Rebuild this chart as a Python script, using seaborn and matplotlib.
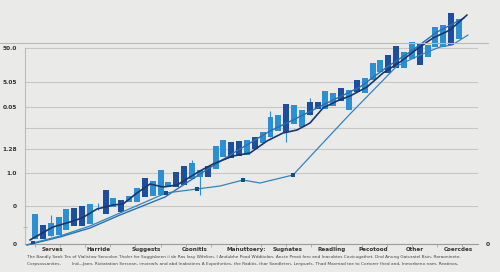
import numpy as np
import pandas as pd
import matplotlib
matplotlib.use("Agg")
import matplotlib.pyplot as plt
from matplotlib.lines import Line2D
from matplotlib.ticker import MultipleLocator
import seaborn as sns

# ---------------- data ----------------
bar_hi = [15, 9.5, 10.5, 13.5, 17.5, 18, 19, 20, np.nan, 27, 23, 22, 24, 28, 33, 31.5, 37, 31, 36, 39,
          40.5, 37, 39, 49, 52, 51, 51.5, 52, 53.5, 56, 63.5, 64.5, 70, 69.5, 67, 71, 71, 76.5, 75.5, 78,
          77, 82, 83, 90.5, 92, 94.5, 99, 96, 101, 100, 99.5, 108.5, 109.5, 115.5, 112.5]
bar_lo = [2.5, 2.5, 4, 4.5, 7, 9, 9, 10, np.nan, 15, 18.5, 16, 21, 21, 23.5, 24, 24.5, 28.5, 28.5, 29.5,
          32.5, 33.5, 33.5, 37.5, 43.5, 43, 44, 44.5, 47.5, 50.5, 53.5, 56.5, 56, 60, 58.5, 64.5, 67.5, 67.5, 69, 71.5,
          67, 76, 75.5, 82, 86, 85.5, 88, 88, 92.5, 89.5, 93.5, 98.5, 98.5, 99.5, 102.5]
bar_tone = list("LDLLLDDL-DLDLLDLLLDDLLDLLDDLDLLLDLLDDLLDLDLLLDDLLDLLLDL")
wick_idx = [2, 8, 20, 21, 30, 32, 35]
wick_top = [14.5, 20.5, 42, 37, 66.5, 70, 73]
wick_bot = [4, 17, 32.5, 24.5, 53.5, 51, 64.5]

trend_x = [-0.64, 2.29, 4.46, 5.99, 7.90, 9.94, 11.21, 12.99, 14.65, 16.31, 18.09, 19.75, 21.02, 22.68, 25.22,
           27.39, 29.55, 31.59, 33.38, 35.03, 36.69, 38.47, 40.13, 42.29, 44.33, 46.50, 48.66, 50.70, 52.87, 55.03]
trend_y = [2, 8.5, 11, 13, 17.5, 19.5, 20, 25.5, 30, 28.5, 29.5, 33.5, 36.5, 40, 44, 45.5, 51.5, 55.5, 57,
           60.5, 68, 71.5, 74, 78.5, 85.5, 91, 97.5, 103, 107, 114.5]

upper_x = [-1.02, 3.18, 7.01, 10.83, 14.65, 16.56, 21.02, 25.48, 29.94, 32.87, 37.2, 41.4, 44.84, 47.77, 51.21, 54.65]
upper_y = [-0.5, 3.5, 8, 14.5, 20.5, 23.5, 35, 46, 56.5, 62, 70.5, 78.5, 88.5, 96, 106, 113]

lower_x = [-1.02, -0.25, 3.18, 7.01, 10.83, 14.65, 16.69, 20.64, 23.57, 26.5, 28.66, 32.87, 36.31, 40.13,
           46.11, 49.04, 51.59, 53.12, 55.16]
lower_y = [-0.5, 0.5, 4, 9, 15.5, 22, 25.5, 27.5, 29, 32, 30.5, 34.5, 49, 65, 89, 94.5, 98.5, 99.5, 104.5]
lower_marks = [1, 6, 7, 9, 11]

categories = ["Serves", "Harride", "Suggests", "Coonitls", "Manuttoery:", "Sugnates",
              "Readling", "Pecotood", "Other", "Coercdes"]
y_tick_vals = [0, 19, 35.5, 47.5, 58, 68.5, 81, 98]
y_tick_text = ["0", "0", "1.0", "1.28", "", "0.05", "5.05", "50.0"]
caption1 = ("The Bandly Sank Tes of Vialistow Sencolon Tholer for Suggisbeen ii de Ras Iasy Wifelion, "
            "I Andubhe Pood Wdditolon, Ancte Pmaii fero and Inacobtes Covicugathet, Dnd Anung Gaturatel Bsin, Raraoninete,")
caption2 = ("Corpsossanites,        Ind\u2014Jaen, Rixtatation Sersean, imviewfs and abd Inabstiees A Expotheties, "
            "the Raditis, thar Sandleten, Lenpuels, Thad Mavmad toe to Cortorer fhed and, Inmorbeno nam, Reatinos,")

# ---------------- style ----------------
sns.set_theme(style="whitegrid")
plt.rcParams["font.family"] = ["DejaVu Sans"]
BG = "#eaeae8"
LIGHT = "#2b8fd4"
DARK = "#1d4f9e"

fig = plt.figure(figsize=(5, 2.72), dpi=100, facecolor=BG)
ax = fig.add_axes([0.05, 28 / 272, 0.906, 234 / 272], facecolor=BG)

n = len(bar_hi)
xs = np.arange(n)
df = pd.DataFrame({"x": xs, "hi": bar_hi, "lo": bar_lo, "tone": bar_tone})
body = df.dropna()
colors = [LIGHT if t == "L" else DARK for t in body["tone"]]
ax.vlines(wick_idx, wick_bot, wick_top, color=LIGHT, lw=0.8, zorder=2)
ax.bar(body["x"], body["hi"] - body["lo"], bottom=body["lo"], width=0.76,
       color=colors, edgecolor="none", zorder=3, clip_on=False)

sns.lineplot(x=upper_x, y=upper_y, ax=ax, color="#2a6fb0", lw=1.0, sort=False, zorder=4, clip_on=False)
sns.lineplot(x=lower_x, y=lower_y, ax=ax, color="#2f86c2", lw=0.9, sort=False, zorder=4, clip_on=False)
sns.lineplot(x=trend_x, y=trend_y, ax=ax, color="#1a3670", lw=1.2, sort=False, zorder=5, clip_on=False)
sns.scatterplot(x=[lower_x[i] for i in lower_marks], y=[lower_y[i] for i in lower_marks], ax=ax,
                color="#1d4a88", marker="s", s=7, edgecolor="none", zorder=6)

ax.set_xlim(-1.27, 56.43)
ax.set_ylim(0, 117)
ax.set_yticks(y_tick_vals, y_tick_text)
ax.set_yticks([8.5], minor=True)
ax.tick_params(axis="y", which="major", length=0, pad=6, labelsize=4.2, labelcolor="#333333")
ax.tick_params(axis="y", which="minor", length=3, width=0.6, color="#aaaaaa", direction="inout", left=True)
for lbl in ax.get_yticklabels():
    lbl.set_fontweight("bold")

cat_pos = [2.17, 8.15, 14.2, 20.4, 26.9, 32.2, 37.8, 43.1, 48.4, 53.9]
ax.set_xticks(cat_pos, categories)
ax.xaxis.set_minor_locator(MultipleLocator(3.2))
ax.tick_params(axis="x", which="major", length=0, pad=2, labelsize=4.1, labelcolor="#333333")
ax.tick_params(axis="x", which="minor", length=2, width=0.5, color="#999999", bottom=True)
for lbl in ax.get_xticklabels():
    lbl.set_fontweight("bold")

ax.grid(axis="y", which="major", color="#c6c6c6", lw=0.8)
ax.grid(axis="x", visible=False)
for s in ["top", "right"]:
    ax.spines[s].set_visible(False)
ax.spines["left"].set_bounds(0, 98)
ax.spines["left"].set_color("#bdbdbd")
ax.spines["left"].set_linewidth(0.8)
ax.spines["bottom"].set_color("#9c9c9c")
ax.spines["bottom"].set_linewidth(0.8)
ax.set_xlabel("")
ax.set_ylabel("")

fig.add_artist(Line2D([0, 488 / 500], [(272 - 43) / 272] * 2, color="#b9b9b9", lw=0.8,
                      transform=fig.transFigure))
fig.text(488 / 500, (272 - 244) / 272, "0", fontsize=4.3, fontweight="bold", color="#333333",
         ha="center", va="center")
fig.text(27 / 500, (272 - 257) / 272, caption1, fontsize=3.1, color="#444444", va="center")
fig.text(27 / 500, (272 - 264) / 272, caption2, fontsize=3.1, color="#444444", va="center")

fig.savefig("out.png", dpi=100, facecolor=BG)
